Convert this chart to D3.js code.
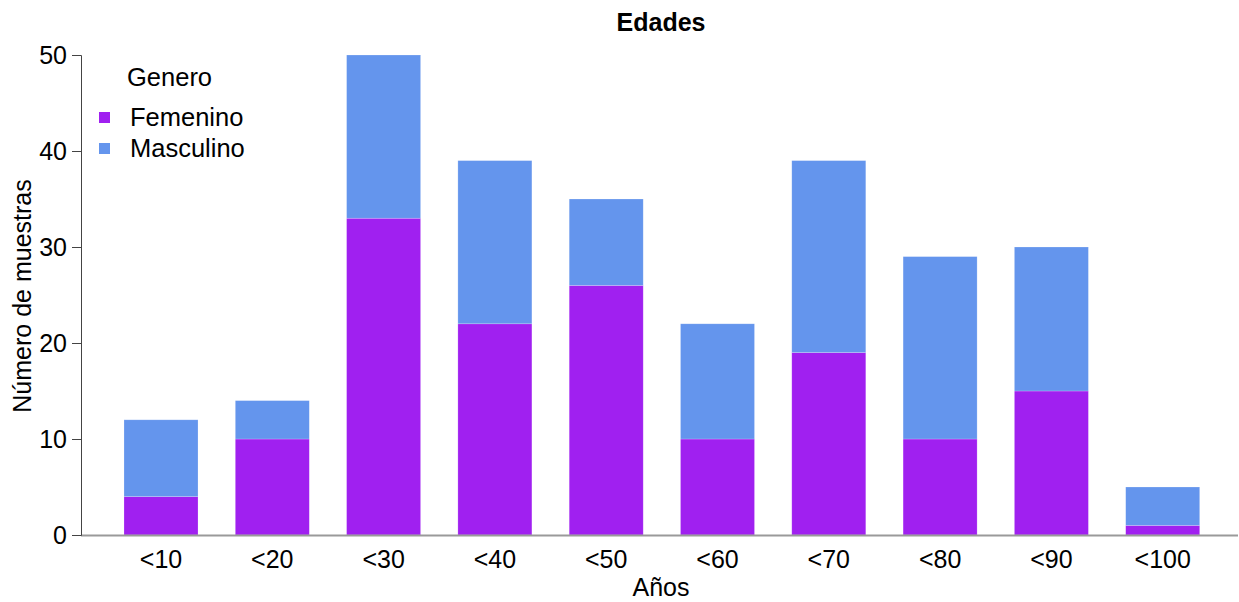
<!DOCTYPE html>
<html><head><meta charset="utf-8">
<script src="https://cdn.jsdelivr.net/npm/d3@7"></script>
<style>body{margin:0;background:#fff}svg{display:block;font-family:"Liberation Sans",Arial,sans-serif}</style>
</head><body><svg id="c" width="1239" height="602"></svg>
<script>
const categories = ["<10","<20","<30","<40","<50","<60","<70","<80","<90","<100"];
const femenino = [4,10,33,22,26,10,19,10,15,1];
const masculino = [8,4,17,17,9,12,20,19,15,4];
const series = ["Femenino","Masculino"];
const yTicks = [0,10,20,30,40,50];
const colors = {Femenino:"#A020F0", Masculino:"#6495ED"};

const svg = d3.select("#c");
const x = d3.scaleBand().domain(categories).range([105.35,1218.35]).paddingInner(0.335).paddingOuter(0.1675);
const y = d3.scaleLinear().domain([0,50]).range([535,55]);

const rows = categories.map((c,i)=>({cat:c, Femenino:femenino[i], Masculino:masculino[i]}));
const stack = d3.stack().keys(series)(rows);

svg.append("g").selectAll("g").data(stack).join("g")
  .attr("fill", d=>colors[d.key])
  .selectAll("rect").data(d=>d).join("rect")
  .attr("x", d=>x(d.data.cat)).attr("width", x.bandwidth())
  .attr("y", d=>y(d[1])).attr("height", d=>y(d[0])-y(d[1]))
  .attr("stroke","rgba(255,255,255,0.35)").attr("stroke-width",0.6);

// x axis baseline
svg.append("line").attr("x1",81).attr("x2",1238).attr("y1",y(0)+0.5).attr("y2",y(0)+0.5)
  .attr("stroke","#9a9a9a").attr("stroke-width",2);

// y axis
const ya = svg.append("g").attr("transform","translate(81,0)")
  .call(d3.axisLeft(y).tickValues(yTicks).tickSize(9).tickPadding(5));
ya.select(".domain").attr("stroke","#444");
ya.selectAll(".tick line").attr("stroke","#444");
ya.selectAll("text").attr("font-size",25).attr("fill","#000").attr("font-family","Liberation Sans, Arial, sans-serif");

// x tick labels
const xa = svg.append("g").attr("transform",`translate(0,${y(0)})`)
  .call(d3.axisBottom(x).tickSize(0).tickPadding(15));
xa.select(".domain").remove();
xa.selectAll("text").attr("font-size",25).attr("fill","#000").attr("font-family","Liberation Sans, Arial, sans-serif");

// titles
svg.append("text").attr("x",661).attr("y",31).attr("text-anchor","middle")
  .attr("font-size",25).attr("font-weight","bold").text("Edades");
svg.append("text").attr("x",661).attr("y",596).attr("text-anchor","middle")
  .attr("font-size",25).text("Años");
svg.append("text").attr("transform","translate(31,296) rotate(-90)").attr("text-anchor","middle")
  .attr("font-size",25).text("Número de muestras");

// legend
const lg = svg.append("g");
lg.append("text").attr("x",127).attr("y",86).attr("font-size",25.5).text("Genero");
series.forEach((s,i)=>{
  lg.append("rect").attr("x",99).attr("y",112+i*31).attr("width",11).attr("height",11).attr("fill",colors[s]);
  lg.append("text").attr("x",130).attr("y",126+i*31).attr("font-size",25.5).text(s);
});
</script></body></html>
